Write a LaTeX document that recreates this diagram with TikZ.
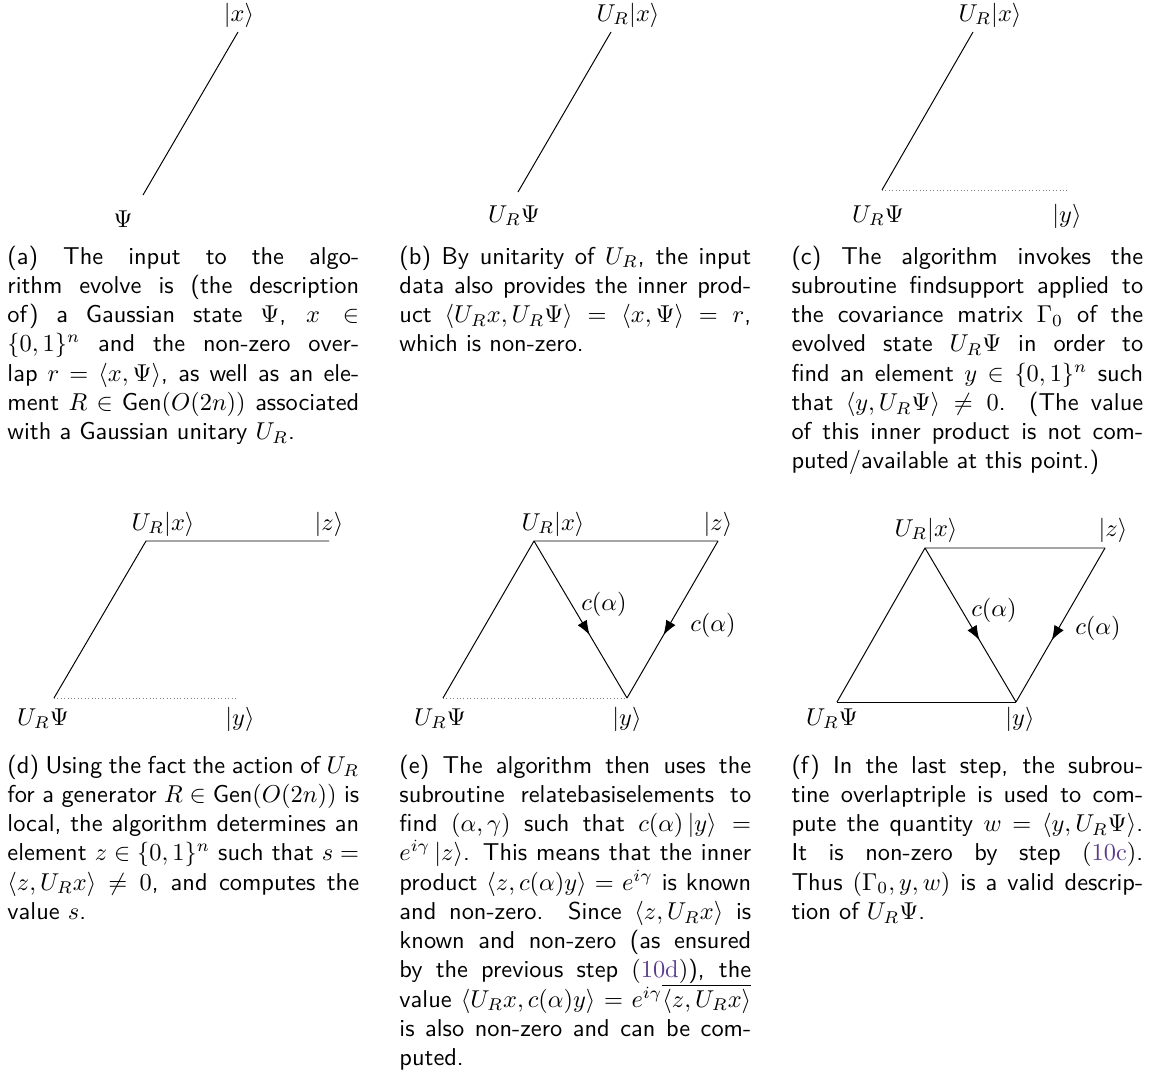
\documentclass[tikz,border=0pt]{standalone}
\usepackage{amsmath,amssymb}
\usetikzlibrary{decorations.markings,arrows.meta}
\definecolor{linkc}{RGB}{90,60,140}
\newlength{\capw}
\setlength{\capw}{144.2pt}
\newcommand{\jl}[1]{\makebox[\linewidth][s]{#1}\\}
\newcommand{\capt}[1]{\parbox[t]{\capw}{\sffamily #1}}
\begin{document}
\begin{tikzpicture}[x=0.41pt,y=-0.41pt,
  seg/.style={draw=black,line width=0.4pt},
  support/.style={draw=gray,densely dotted,line width=0.4pt},
  midarrow/.style={postaction={decorate},decoration={markings,mark=at position 0.6 with {\arrow{Latex[length=6pt,width=4.4pt]}}}},
  lbl/.style={inner sep=0pt,anchor=base},
  captext/.style={inner sep=0pt,anchor=base west}]
\useasboundingbox (0,0) rectangle (1151,1074);

% ---------- (a)
\coordinate (a1) at (238,32);
\coordinate (a2) at (143,195);
\node[lbl] (ax) at (239,21) {$|x\rangle$};
\node[lbl] (apsi) at (123,227) {$\Psi$};
\draw[seg] (a1) -- (a2);
\node[captext] (capa) at (7,264) {\capt{%
\jl{(a) The input to the algo-}
\jl{rithm evolve is (the description}
\jl{of) a Gaussian state $\Psi$, $x\in$}
\jl{$\{0,1\}^n$ and the non-zero over-}
\jl{lap $r=\langle x,\Psi\rangle$, as well as an ele-}
\jl{ment $R\in\mathsf{Gen}(O(2n))$ associated}
with a Gaussian unitary $U_R$.}};

% ---------- (b)
\coordinate (b1) at (611,32);
\coordinate (b2) at (518,192);
\node[lbl] (bx) at (628,21) {$U_R|x\rangle$};
\node[lbl] (bpsi) at (514,222) {$U_R\Psi$};
\draw[seg] (b1) -- (b2);
\node[captext] (capb) at (399,264) {\capt{%
\jl{(b) By unitarity of $U_R$, the input}
\jl{data also provides the inner prod-}
\jl{uct $\langle U_Rx,U_R\Psi\rangle=\langle x,\Psi\rangle=r$,}
which is non-zero.}};

% ---------- (c)
\coordinate (c1) at (973,32);
\coordinate (c2) at (882,190);
\coordinate (c3) at (1067,190);
\node[lbl] (cx) at (990,21) {$U_R|x\rangle$};
\node[lbl] (cpsi) at (878,222) {$U_R\Psi$};
\node[lbl] (cy) at (1067,222) {$|y\rangle$};
\draw[seg] (c1) -- (c2);
\draw[support] (c2) -- (c3);
\node[captext] (capc) at (791,264) {\capt{%
\jl{(c) The algorithm invokes the}
\jl{subroutine findsupport applied to}
\jl{the covariance matrix $\Gamma_0$ of the}
\jl{evolved state $U_R\Psi$ in order to}
\jl{find an element $y\in\{0,1\}^n$ such}
\jl{that $\langle y,U_R\Psi\rangle\neq 0$. (The value}
\jl{of this inner product is not com-}
puted/available at this point.)}};

% ---------- (d)
\coordinate (dx) at (146,541);
\coordinate (dz) at (329,541);
\coordinate (dp) at (54,698);
\coordinate (dy) at (238,698);
\node[lbl] (dxl) at (163,530) {$U_R|x\rangle$};
\node[lbl] (dzl) at (329,530) {$|z\rangle$};
\node[lbl] (dpl) at (43,725) {$U_R\Psi$};
\node[lbl] (dyl) at (240,725) {$|y\rangle$};
\draw[seg] (dp) -- (dx) -- (dz);
\draw[support] (dp) -- (dy);
\node[captext] (capd) at (7,773) {\capt{%
\jl{(d) Using the fact the action of $U_R$}
\jl{for a generator $R\in\mathsf{Gen}(O(2n))$ is}
\jl{local, the algorithm determines an}
\jl{element $z\in\{0,1\}^n$ such that $s=$}
\jl{$\langle z,U_Rx\rangle\neq 0$, and computes the}
value $s$.}};

% ---------- (e)
\coordinate (ex) at (534,541);
\coordinate (ez) at (718,541);
\coordinate (ep) at (443,698);
\coordinate (ey) at (627,698);
\node[lbl] (exl) at (553,530) {$U_R|x\rangle$};
\node[lbl] (ezl) at (718,530) {$|z\rangle$};
\node[lbl] (epl) at (440,725) {$U_R\Psi$};
\node[lbl] (eyl) at (627,725) {$|y\rangle$};
\node[lbl] (ec1) at (604,610) {$c(\alpha)$};
\node[lbl] (ec2) at (713,631) {$c(\alpha)$};
\draw[seg] (ep) -- (ex) -- (ez);
\draw[support] (ep) -- (ey);
\draw[seg,midarrow] (ex) -- (ey);
\draw[seg,midarrow] (ez) -- (ey);
\node[captext] (cape) at (399,773) {\capt{%
\jl{(e) The algorithm then uses the}
\jl{subroutine relatebasiselements to}
\jl{find $(\alpha,\gamma)$ such that $c(\alpha)\,|y\rangle=$}
\jl{$e^{i\gamma}\,|z\rangle$. This means that the inner}
\jl{product $\langle z,c(\alpha)y\rangle=e^{i\gamma}$ is known}
\jl{and non-zero. Since $\langle z,U_Rx\rangle$ is}
\jl{known and non-zero (as ensured}
\jl{by the previous step {\rmfamily(\textcolor{linkc}{10d})}), the}
\jl{value $\langle U_Rx,c(\alpha)y\rangle=e^{i\gamma}\overline{\langle z,U_Rx\rangle}$}
\jl{is also non-zero and can be com-}
puted.}};

% ---------- (f)
\coordinate (fx) at (925,548);
\coordinate (fz) at (1105,548);
\coordinate (fp) at (837,702);
\coordinate (fy) at (1016,702);
\node[lbl] (fxl) at (926,536) {$U_R|x\rangle$};
\node[lbl] (fzl) at (1113,536) {$|z\rangle$};
\node[lbl] (fpl) at (832,725) {$U_R\Psi$};
\node[lbl] (fyl) at (1020,725) {$|y\rangle$};
\node[lbl] (fc1) at (994,616) {$c(\alpha)$};
\node[lbl] (fc2) at (1098,634) {$c(\alpha)$};
\draw[seg] (fp) -- (fx) -- (fz);
\draw[seg] (fp) -- (fy);
\draw[seg,midarrow] (fx) -- (fy);
\draw[seg,midarrow] (fz) -- (fy);
\node[captext] (capf) at (791,773) {\capt{%
\jl{(f) In the last step, the subrou-}
\jl{tine overlaptriple is used to com-}
\jl{pute the quantity $w=\langle y,U_R\Psi\rangle$.}
\jl{It is non-zero by step {\rmfamily(\textcolor{linkc}{10c})}.}
\jl{Thus $(\Gamma_0,y,w)$ is a valid descrip-}
tion of $U_R\Psi$.}};
\end{tikzpicture}
\end{document}
